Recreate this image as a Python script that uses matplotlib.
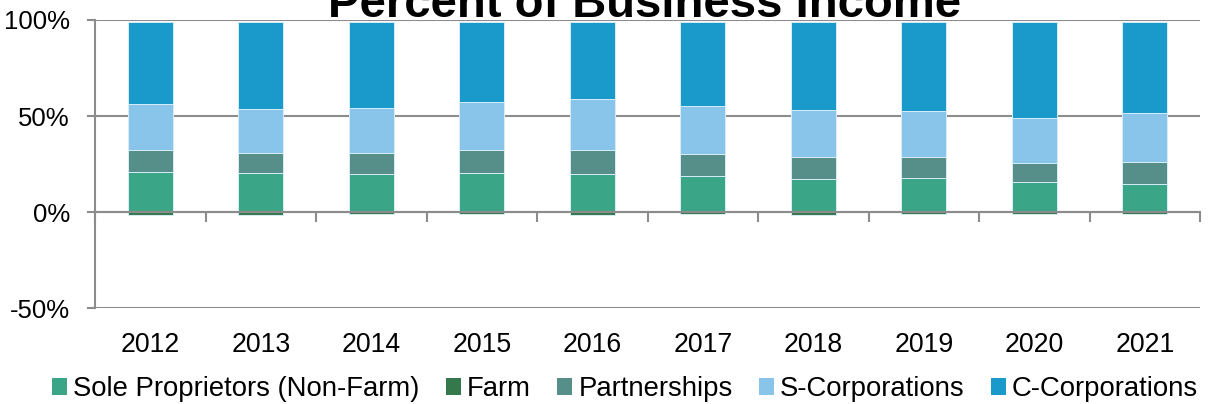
import numpy as np
import matplotlib
matplotlib.use('Agg')
import matplotlib.pyplot as plt
from matplotlib.patches import Patch

plt.rcParams['font.family'] = ['Liberation Sans', 'DejaVu Sans']

# values, percent of total business income
years = ['2012', '2013', '2014', '2015', '2016', '2017', '2018', '2019', '2020', '2021']
sole_prop = [20.8, 20.5, 19.8, 20.5, 19.6, 18.6, 17.2, 17.5, 15.5, 14.4]
farm = [-1.4, -1.3, -1.0, -1.2, -1.3, -1.2, -1.3, -1.2, -1.2, -1.0]
partnerships = [11.3, 10.4, 10.9, 11.6, 12.7, 11.8, 11.3, 11.0, 10.0, 11.6]
s_corps = [24.0, 22.9, 23.6, 25.4, 26.7, 24.8, 24.5, 23.9, 23.3, 25.7]
c_corps = [42.7, 45.0, 44.7, 41.3, 39.7, 43.5, 45.7, 46.4, 50.0, 47.3]

labels = ['Sole Proprietors (Non-Farm)', 'Farm', 'Partnerships',
          'S-Corporations', 'C-Corporations']
colors = ['#3ba587', '#35784c', '#568f8a', '#89c4eb', '#199aca']

fig = plt.figure(figsize=(12.09, 4.04), dpi=100)
ax = fig.add_axes([0.0786, 0.2376, 0.9140, 0.7129])

x = np.arange(len(years))
w = 0.41
edge = dict(edgecolor='#d8edf6', linewidth=0.7)

# positive part stacked upward from zero, farm goes below zero
bottom = np.zeros(len(years))
for vals, col in [(sole_prop, colors[0]), (partnerships, colors[2]),
                  (s_corps, colors[3]), (c_corps, colors[4])]:
    ax.bar(x, vals, w, bottom=bottom, color=col, **edge)
    bottom = bottom + np.array(vals)
ax.bar(x, farm, w, color=colors[1], **edge)

ax.set_xlim(-0.5, len(years) - 0.5)
ax.set_ylim(-50, 100)
ax.set_yticks([-50, 0, 50, 100])
ax.set_yticklabels(['-50%', '0%', '50%', '100%'])
ax.set_axisbelow(True)
ax.yaxis.grid(True, color='#8c8c8c', linewidth=1.5)

for s in ['top', 'right']:
    ax.spines[s].set_visible(False)
ax.spines['left'].set_color('#8c8c8c')
ax.spines['left'].set_linewidth(1.5)
ax.spines['bottom'].set_position(('data', 0))
ax.spines['bottom'].set_color('#8c8c8c')
ax.spines['bottom'].set_linewidth(1.5)

ax.set_xticks(x)
ax.set_xticklabels(years)
ax.set_xticks(np.arange(len(years) + 1) - 0.5, minor=True)
ax.tick_params(axis='x', which='major', length=0, pad=86.5, labelsize=19.2)
ax.tick_params(axis='x', which='minor', length=7, width=1.5, color='#8c8c8c')
ax.tick_params(axis='y', length=6, width=1.5, color='#8c8c8c', labelsize=18.5, pad=12)

handles = [Patch(facecolor=c, edgecolor='none') for c in colors]
fig.legend(handles, labels, loc='lower center', bbox_to_anchor=(0.517, -0.057),
           ncol=5, frameon=False, fontsize=19.8, handlelength=0.55,
           handleheight=0.55, handletextpad=0.22, columnspacing=0.95)

fig.text(0.5335, 1 - 17 / 404, 'Percent of Business Income', ha='center',
         va='baseline', fontsize=34, fontweight='bold')

fig.savefig('out.png', dpi=100)
